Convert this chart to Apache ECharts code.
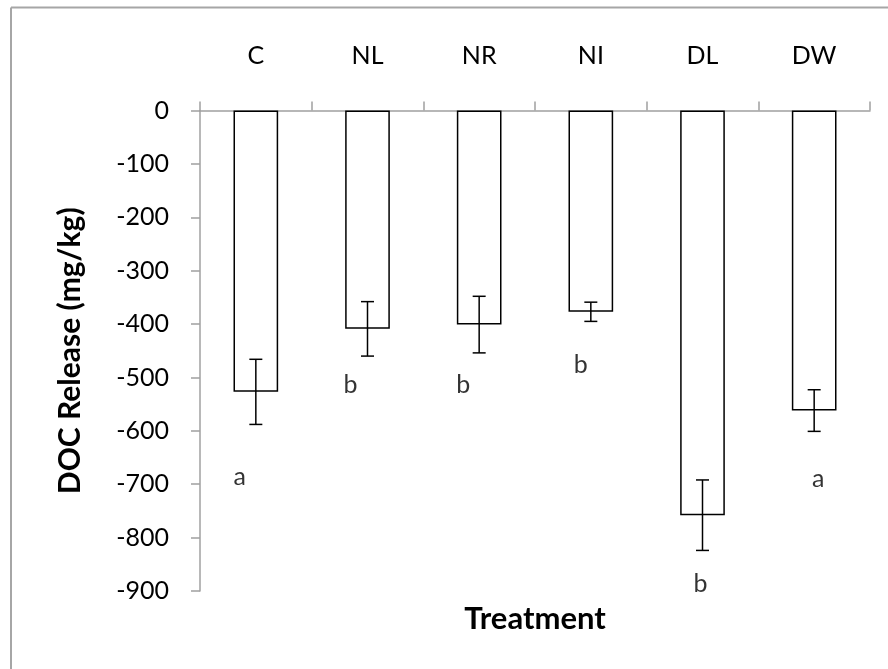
<!DOCTYPE html>
<html>
<head>
<meta charset="utf-8">
<script src="https://cdn.jsdelivr.net/npm/echarts@6/dist/echarts.min.js"></script>
<style>
html,body{margin:0;padding:0;background:#fff;}
#chart{width:888px;height:669px;}
</style>
</head>
<body>
<div id="chart"></div>
<script>
var categories = ['C', 'NL', 'NR', 'NI', 'DL', 'DW'];
var means = [-527, -409, -401, -377, -758, -562];
var errors = [61, 51, 53, 18, 66, 39];
var letters = ['a', 'b', 'b', 'b', 'b', 'a'];
var letterValues = [-687, -514, -514, -477, -887, -690];
var letterOffsets = [[-16, 0], [-17, 0], [-16, 0], [-10, 0], [-2, 0], [4, 0]];
var yTicks = [0, -100, -200, -300, -400, -500, -600, -700, -800, -900];

var FONT = 'Lato, "Open Sans", sans-serif';
var chart = echarts.init(document.getElementById('chart'), null, {renderer: 'canvas'});

var errData = means.map(function (m, i) { return [i, m - errors[i], m + errors[i]]; });
var letterData = letters.map(function (l, i) {
  return {
    value: [i, letterValues[i]],
    label: {formatter: l, offset: letterOffsets[i]}
  };
});

chart.setOption({
  backgroundColor: '#fff',
  animation: false,
  graphic: [
    {type: 'line', shape: {x1: 11, y1: 7.5, x2: 888, y2: 7.5}, style: {stroke: '#a6a6a6', lineWidth: 2}},
    {type: 'line', shape: {x1: 11, y1: 7.5, x2: 11, y2: 669}, style: {stroke: '#a6a6a6', lineWidth: 2}}
  ],
  grid: {left: 200, right: 18, top: 110.5, bottom: 78},
  xAxis: [{
    type: 'category',
    position: 'top',
    data: categories,
    axisLine: {lineStyle: {color: '#a0a0a0', width: 1.5}},
    axisTick: {show: true, length: 9, lineStyle: {color: '#a0a0a0', width: 1.5}},
    axisLabel: {fontSize: 25, color: '#000', fontFamily: FONT, margin: 42},
    splitLine: {show: false}
  }, {
    type: 'category',
    position: 'bottom',
    data: categories,
    axisLine: {show: false},
    axisTick: {show: false},
    axisLabel: {show: false},
    name: 'Treatment',
    nameLocation: 'middle',
    nameGap: 12,
    nameTextStyle: {fontSize: 31, fontWeight: 'bold', color: '#000', fontFamily: FONT}
  }],
  yAxis: {
    type: 'value',
    min: -900,
    max: 0,
    interval: 100,
    axisLine: {show: true, lineStyle: {color: '#a0a0a0', width: 1.5}},
    axisTick: {show: true, length: 9, lineStyle: {color: '#a0a0a0', width: 1.5}},
    axisLabel: {fontSize: 25, color: '#000', fontFamily: FONT, margin: 31,
      formatter: function (v) { return yTicks.indexOf(v) >= 0 ? String(v) : ''; }},
    splitLine: {show: false},
    name: 'DOC Release (mg/kg)',
    nameLocation: 'middle',
    nameGap: 115,
    nameTextStyle: {fontSize: 30, fontWeight: 'bold', color: '#000', fontFamily: FONT}
  },
  series: [{
    type: 'bar',
    data: means,
    barWidth: '40%',
    itemStyle: {color: '#fff', borderColor: '#000', borderWidth: 1.5},
    z: 2
  }, {
    type: 'custom',
    data: errData,
    z: 3,
    renderItem: function (params, api) {
      var x = api.value(0);
      var lo = api.coord([x, api.value(1)]);
      var hi = api.coord([x, api.value(2)]);
      var hw = 6.5;
      var st = {stroke: '#000', lineWidth: 1.5};
      return {
        type: 'group',
        children: [
          {type: 'line', shape: {x1: lo[0], y1: lo[1], x2: hi[0], y2: hi[1]}, style: st},
          {type: 'line', shape: {x1: lo[0] - hw, y1: lo[1], x2: lo[0] + hw, y2: lo[1]}, style: st},
          {type: 'line', shape: {x1: hi[0] - hw, y1: hi[1], x2: hi[0] + hw, y2: hi[1]}, style: st}
        ]
      };
    }
  }, {
    type: 'scatter',
    data: letterData,
    symbolSize: 0,
    silent: true,
    label: {show: true, position: 'inside', fontSize: 25, color: '#000', fontFamily: FONT}
  }]
});
</script>
</body>
</html>
